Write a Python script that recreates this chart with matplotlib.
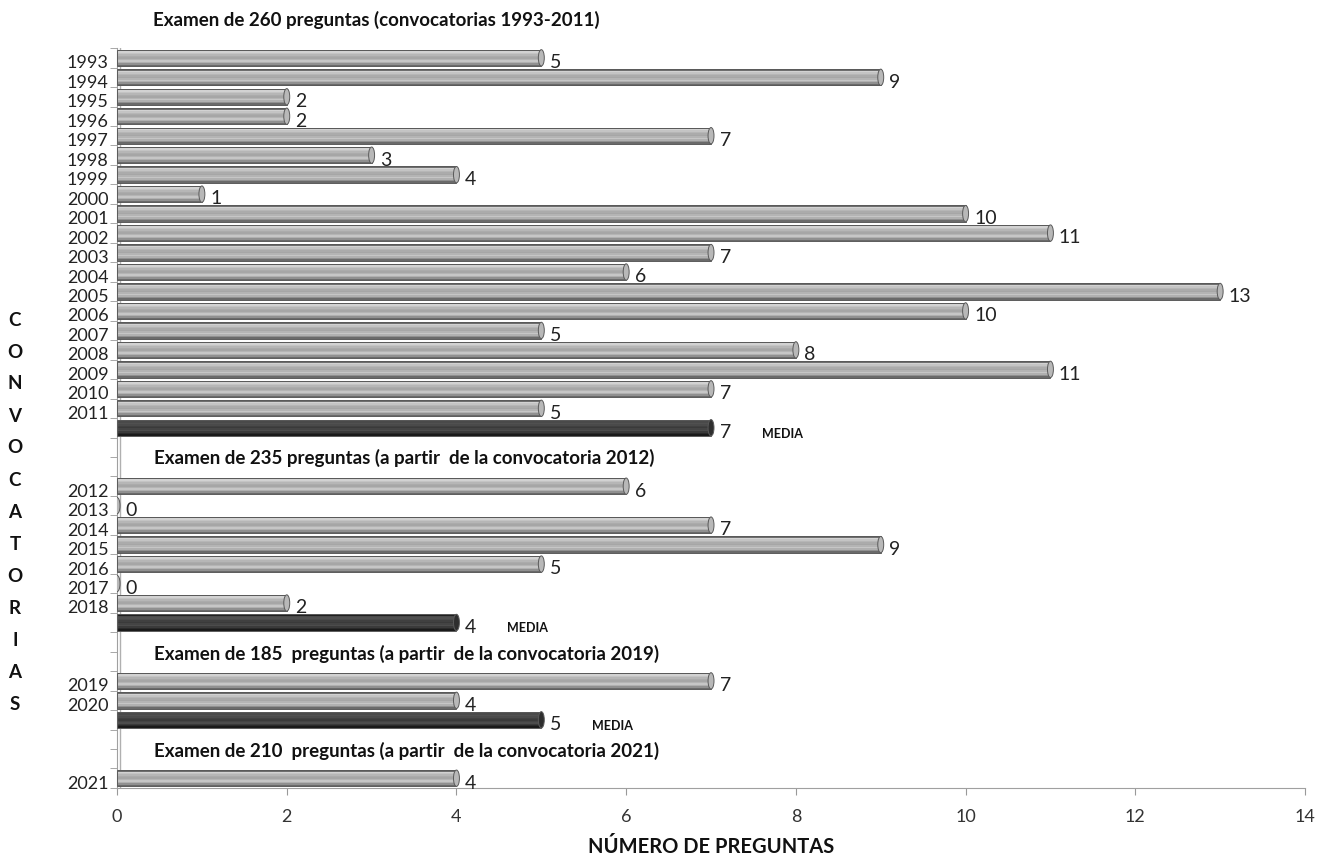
import numpy as np
import matplotlib
matplotlib.use("Agg")
import matplotlib.pyplot as plt
import matplotlib.transforms as mtrans
from matplotlib.patches import Ellipse, Rectangle

plt.rcParams['font.family'] = ['Lato', 'DejaVu Sans']

# data
years1 = [1993, 1994, 1995, 1996, 1997, 1998, 1999, 2000, 2001, 2002,
          2003, 2004, 2005, 2006, 2007, 2008, 2009, 2010, 2011]
vals1 = [5, 9, 2, 2, 7, 3, 4, 1, 10, 11, 7, 6, 13, 10, 5, 8, 11, 7, 5]
media1 = 7
years2 = [2012, 2013, 2014, 2015, 2016, 2017, 2018]
vals2 = [6, 0, 7, 9, 5, 0, 2]
media2 = 4
years3 = [2019, 2020]
vals3 = [7, 4]
media3 = 5
years4 = [2021]
vals4 = [4]

titles = ['Examen de 260 preguntas (convocatorias 1993-2011)',
          'Examen de 235 preguntas (a partir  de la convocatoria 2012)',
          'Examen de 185  preguntas (a partir  de la convocatoria 2019)',
          'Examen de 210  preguntas (a partir  de la convocatoria 2021)']

# build rows: (label, value, is_media); None value = blank row
rows = []
for y, v in zip(years1, vals1):
    rows.append((str(y), v, False))
rows.append(('', media1, True))
rows += [('', None, False)] * 2
for y, v in zip(years2, vals2):
    rows.append((str(y), v, False))
rows.append(('', media2, True))
rows += [('', None, False)] * 2
for y, v in zip(years3, vals3):
    rows.append((str(y), v, False))
rows.append(('', media3, True))
rows += [('', None, False)] * 2
for y, v in zip(years4, vals4):
    rows.append((str(y), v, False))

n = len(rows)

fig = plt.figure(figsize=(13.33, 8.59), dpi=100)
ax = fig.add_axes([0.0878, 0.0827, 0.979 - 0.0878, 0.944 - 0.0827])

h = 0.84
light = ['#6e6e6e', '#d2d2d2', '#c4c4c4', '#b6b6b6', '#ababab', '#a6a6a6',
         '#b4b4b4', '#c6c6c6', '#b0b0b0', '#909090', '#6a6a6a']
dark = ['#202020', '#4a4a4a', '#505050', '#4a4a4a', '#404040', '#3a3a3a',
        '#444444', '#4c4c4c', '#3a3a3a', '#2a2a2a', '#1a1a1a']

for i, (lab, v, is_media) in enumerate(rows):
    if v is None:
        continue
    cols = dark if is_media else light
    k = len(cols)
    top = i - h / 2
    sh = h / k
    if v > 0:
        for j, c in enumerate(cols):
            ax.barh(top + (j + 0.5) * sh, v, height=sh * 1.02, color=c,
                    edgecolor='none', zorder=2)
        ax.add_patch(Rectangle((0, top), v, h, facecolor='none',
                               edgecolor='#5a5a5a', lw=0.7, zorder=3))
    cap_face = '#2e2e2e' if is_media else '#b8b8b8'
    ax.add_patch(Ellipse((v, i), 0.07, h, facecolor=cap_face,
                         edgecolor='#5a5a5a', lw=0.7, zorder=4))
    ax.text(v + 0.1, i + 0.25, str(v), fontsize=14, color='#222222',
            ha='left', va='center', zorder=5)
    if is_media:
        ax.text(v + 0.6, i + 0.3, 'MEDIA', fontsize=9, fontweight='bold',
                color='#111111', ha='left', va='center', zorder=5)

# section titles
title_rows = [-1.95, 20.55, 30.6, 35.6]
title_x = [0.42, 0.44, 0.44, 0.44]
for t, yy, xx in zip(titles, title_rows, title_x):
    ax.text(xx, yy, t, fontsize=13.5, fontweight='bold', color='#111111',
            ha='left', va='center', clip_on=False)

ax.set_xlim(0, 14)
ax.set_ylim(n - 0.5, -0.5)
ax.set_xticks(np.arange(0, 15, 2))
ax.tick_params(axis='x', labelsize=13, colors='#333333', length=5,
               color='#999999', pad=10)

ax.set_yticks(range(n))
ax.set_yticklabels([r[0] for r in rows], fontsize=13, color='#222222')
ax.set_yticks(np.arange(-0.5, n, 1), minor=True)
ax.tick_params(axis='y', which='major', length=0, pad=6)
ax.tick_params(axis='y', which='minor', length=5, color='#999999')
off = mtrans.ScaledTranslation(0, -4 / 100, fig.dpi_scale_trans)
for lbl in ax.get_yticklabels():
    lbl.set_transform(lbl.get_transform() + off)

for s in ['top', 'right']:
    ax.spines[s].set_visible(False)
ax.spines['left'].set_color('#a0a0a0')
ax.spines['bottom'].set_color('#a0a0a0')
ax.axvline(0.035, color='#b0b0b0', lw=1, zorder=1)

fig.text(711 / 1333, 1 - 847 / 859, 'NÚMERO DE PREGUNTAS', fontsize=14.5,
         fontweight='bold', ha='center', va='center', color='#111111')

word = 'CONVOCATORIAS'
for j, ch in enumerate(word):
    fig.text(15 / 1333, 1 - (320 + j * 32) / 859, ch, fontsize=13.5,
             fontweight='bold', ha='center', va='center', color='#111111')

plt.savefig('out.png', dpi=100)
